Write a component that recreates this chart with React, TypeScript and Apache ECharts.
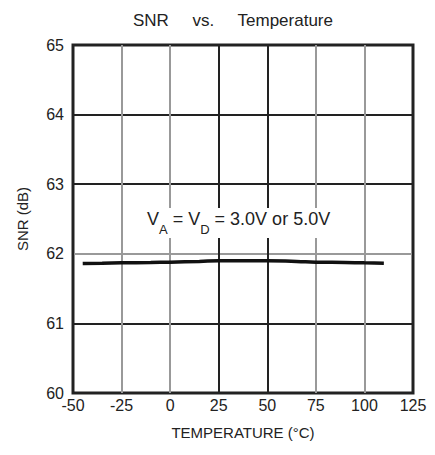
import React, { useEffect, useRef } from "react";
import * as echarts from "echarts";

const temperatures = [-45, -35, -25, -10, 0, 15, 25, 40, 50, 65, 75, 90, 100, 110];
const snrValues = [61.86, 61.865, 61.87, 61.875, 61.88, 61.89, 61.9, 61.9, 61.9, 61.89, 61.88, 61.875, 61.87, 61.865];
const xTicks = [-50, -25, 0, 25, 50, 75, 100, 125];
const yTicks = [60, 61, 62, 63, 64, 65];

const DARK = "#222";
const GREY = "#999";
const FONT = "'Liberation Sans', Arial, Helvetica, sans-serif";

export default function App() {
  const ref = useRef<HTMLDivElement>(null);
  useEffect(() => {
    if (!ref.current) return;
    const chart = echarts.init(ref.current, null, { renderer: "svg" });
    chart.setOption({
      animation: false,
      title: {
        text: "SNR     vs.     Temperature",
        left: 128,
        top: 7,
        textStyle: { fontFamily: FONT, fontSize: 17, fontWeight: "normal", color: "#222" },
      },
      grid: {
        left: 73,
        top: 45,
        right: 22,
        bottom: 62,
        show: true,
        borderColor: DARK,
        borderWidth: 3,
        backgroundColor: "#fff",
      },
      xAxis: {
        type: "value",
        min: xTicks[0],
        max: xTicks[xTicks.length - 1],
        interval: 25,
        name: "TEMPERATURE (°C)",
        nameLocation: "middle",
        nameGap: 32,
        nameTextStyle: { fontFamily: FONT, fontSize: 15, color: "#222" },
        axisLine: { show: false },
        axisTick: { show: false },
        axisLabel: { fontFamily: FONT, fontSize: 16, color: "#222", margin: 4 },
        splitLine: {
          show: true,
          lineStyle: { color: [DARK, GREY, GREY, DARK, DARK, GREY, GREY, DARK], width: 2 },
        },
      },
      yAxis: {
        type: "value",
        min: yTicks[0],
        max: yTicks[yTicks.length - 1],
        interval: 1,
        name: "SNR (dB)",
        nameLocation: "middle",
        nameGap: 43,
        nameTextStyle: { fontFamily: FONT, fontSize: 15, color: "#222" },
        axisLine: { show: false },
        axisTick: { show: false },
        axisLabel: { fontFamily: FONT, fontSize: 16, color: "#222", margin: 9 },
        splitLine: {
          show: true,
          lineStyle: { color: [DARK, DARK, GREY, DARK, DARK, DARK], width: 2 },
        },
      },
      graphic: [
        {
          type: "text",
          left: 143,
          top: 208,
          z: 10,
          style: {
            text: "{m|V}{sub|A}{m| = V}{sub|D}{m| = 3.0V or 5.0V}",
            fontFamily: FONT,
            fontSize: 18,
            fill: "#222",
            backgroundColor: "#fff",
            padding: [2, 4, 2, 4],
            rich: {
              m: { fontFamily: FONT, fontSize: 18, fill: "#222", verticalAlign: "top", lineHeight: 20 },
              sub: { fontFamily: FONT, fontSize: 13, fill: "#222", verticalAlign: "bottom", lineHeight: 26 },
            },
          },
        },
      ],
      series: [
        {
          type: "line",
          data: temperatures.map((t, i) => [t, snrValues[i]]),
          showSymbol: false,
          smooth: true,
          lineStyle: { color: "#111", width: 3.5 },
          z: 5,
        },
      ],
    });
    return () => chart.dispose();
  }, []);
  return <div ref={ref} style={{ width: 435, height: 455, margin: -8 }} />;
}
